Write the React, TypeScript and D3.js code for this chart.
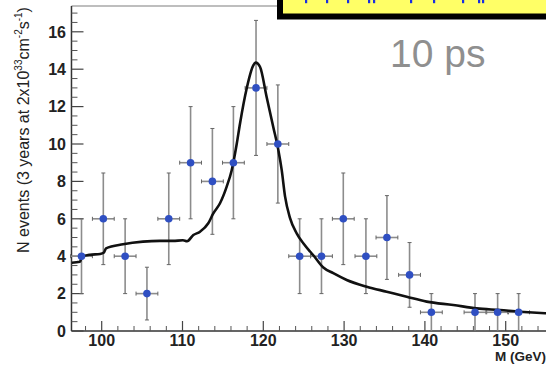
import React from "react";
import * as d3 from "d3";

// Data points (bin centre in GeV, N events, error)
const massBins = [97.5, 100.2, 102.9, 105.6, 108.3, 111.0, 113.7, 116.3, 119.1, 121.8, 124.5, 127.2, 129.9, 132.7, 135.3, 138.1, 140.8, 146.2, 149.0, 151.6];
const counts = [4, 6, 4, 2, 6, 9, 8, 9, 13, 10, 4, 4, 6, 4, 5, 3, 1, 1, 1, 1];
const errors = [2, 2.45, 2, 1.41, 2.45, 3, 2.83, 3, 3.61, 3.16, 2, 2, 2.45, 2, 2.24, 1.73, 1, 1, 1, 1];
const binHalfWidth = 1.35;

// Fitted curve
const curveMass = [96.3, 97.3, 97.56, 98.55, 99.8, 100.28, 100.53, 102.64, 105.11, 107.2, 108.82, 110.06, 110.56, 111.34, 112.17, 113.19, 113.81, 114.64, 115.47, 116.09, 116.71, 117.12, 117.95, 118.76, 119.06, 119.59, 120.42, 121.24, 121.86, 122.28, 122.69, 123.3, 124.13, 124.95, 125.78, 126.19, 127.43, 128.66, 130.32, 132.8, 135.27, 137.75, 140.22, 143.51, 146.41, 149.29, 151.77, 154.86, 156];
const curveValue = [3.65, 3.7, 3.97, 4.08, 4.12, 4.2, 4.42, 4.64, 4.78, 4.82, 4.82, 4.85, 4.8, 5.13, 5.31, 5.76, 6.29, 6.83, 7.72, 8.6, 10.0, 11.1, 12.98, 14.2, 14.35, 14.13, 12.5, 10.9, 9.68, 8.6, 7.2, 6.05, 5.22, 4.69, 4.25, 4.05, 3.4, 3.09, 2.73, 2.37, 2.1, 1.83, 1.57, 1.39, 1.21, 1.12, 1.03, 0.95, 0.93];

const xMajorTicks = [100, 110, 120, 130, 140, 150];
const yMajorTicks = [0, 2, 4, 6, 8, 10, 12, 14, 16];

const W = 546;
const H = 368;

export default function App() {
  const x = d3.scaleLinear().domain([100, 150]).range([101.7, 505.7]);
  const y = d3.scaleLinear().domain([0, 16]).range([331, 31.8]);
  const x0 = x(96.26);
  const yTop = y(17.38);

  const xMinor = d3.range(98, 156, 2).filter((v) => v % 10 !== 0);
  const yMinor = d3.range(0, 17.4, 0.5).filter((v) => v % 2 !== 0);

  const line = d3
    .line<number>()
    .x((_, i) => x(curveMass[i]))
    .y((d) => y(d))
    .curve(d3.curveMonotoneX);

  const errColor = "#8c8c8c";
  const capColor = "#666";
  const font = "'Liberation Sans', Arial, Helvetica, sans-serif";

  const blueMarks = [305, 326, 347, 368, 373, 410, 433, 462, 478, 482];

  return (
    <svg width={W} height={H} style={{ position: "absolute", left: 0, top: 0, background: "#fff" }}>
      <defs>
        <clipPath id="plotclip">
          <rect x={x0} y={0} width={W - x0} height={331} />
        </clipPath>
      </defs>
      <rect x={0} y={0} width={W} height={H} fill="#fff" />

      {/* frame top */}
      <line x1={x0} x2={W} y1={yTop} y2={yTop} stroke="#a8a8a8" strokeWidth={1.5} />

      {/* axes */}
      <line x1={x0} x2={x0} y1={yTop} y2={y(0)} stroke="#333" strokeWidth={1.5} />
      <line x1={x0} x2={W} y1={y(0)} y2={y(0)} stroke="#333" strokeWidth={1.5} />

      {/* y ticks */}
      {yMajorTicks.map((v) => (
        <g key={"ym" + v}>
          <line x1={x0} x2={x0 + 12} y1={y(v)} y2={y(v)} stroke="#444" strokeWidth={1.2} />
          <text x={66} y={y(v) + 5.7} textAnchor="end" fontFamily={font} fontWeight="bold" fontSize={16} fill="#222">
            {v}
          </text>
        </g>
      ))}
      {yMinor.map((v) => (
        <line key={"yn" + v} x1={x0} x2={x0 + 6} y1={y(v)} y2={y(v)} stroke="#555" strokeWidth={1} />
      ))}

      {/* x ticks */}
      {xMajorTicks.map((v) => (
        <g key={"xm" + v}>
          <line x1={x(v)} x2={x(v)} y1={y(0)} y2={y(0) - 10} stroke="#444" strokeWidth={1.2} />
          <text x={x(v)} y={346.3} textAnchor="middle" fontFamily={font} fontWeight="bold" fontSize={16} fill="#222">
            {v}
          </text>
        </g>
      ))}
      {xMinor.map((v) => (
        <line key={"xn" + v} x1={x(v)} x2={x(v)} y1={y(0)} y2={y(0) - 5} stroke="#555" strokeWidth={1} />
      ))}

      {/* error bars */}
      {massBins.map((m, i) => {
        const cx = x(m);
        const cy = y(counts[i]);
        const yl = y(Math.max(0, counts[i] - errors[i]));
        const yh = y(counts[i] + errors[i]);
        const xl = x(m - binHalfWidth);
        const xh = x(m + binHalfWidth);
        return (
          <g key={"e" + i}>
            <line x1={cx} x2={cx} y1={yh} y2={yl} stroke={errColor} strokeWidth={1.6} />
            <line x1={cx - 2} x2={cx + 2} y1={yh} y2={yh} stroke={capColor} strokeWidth={1} />
            <line x1={cx - 2} x2={cx + 2} y1={yl} y2={yl} stroke={capColor} strokeWidth={1} />
            <line x1={xl} x2={xh} y1={cy} y2={cy} stroke={errColor} strokeWidth={1.6} />
            <line x1={xl} x2={xl} y1={cy - 2} y2={cy + 2} stroke={capColor} strokeWidth={1} />
            <line x1={xh} x2={xh} y1={cy - 2} y2={cy + 2} stroke={capColor} strokeWidth={1} />
          </g>
        );
      })}

      {/* curve */}
      <path d={line(curveValue) || ""} fill="none" stroke="#111" strokeWidth={2.6} strokeLinejoin="round" clipPath="url(#plotclip)" />

      {/* points */}
      {massBins.map((m, i) => (
        <circle key={"p" + i} cx={x(m)} cy={y(counts[i])} r={3.8} fill="#2f4fc2" />
      ))}

      {/* yellow box */}
      <rect x={277} y={-10} width={300} height={29.5} fill="#000" />
      <rect x={283} y={-10} width={300} height={23.5} fill="#ffff66" />
      {blueMarks.map((bx, i) => (
        <rect key={"b" + i} x={bx} y={0} width={2.2} height={3.2} fill="#1a2ee0" />
      ))}

      {/* 10 ps */}
      <text x={390} y={66.7} fontFamily={font} fontSize={39} fill="#8f8f8f">
        10 ps
      </text>

      {/* y label */}
      <text
        transform={`translate(28.5, 130) rotate(-90)`}
        textAnchor="middle"
        fontFamily={font}
        fontSize={16}
        fill="#222"
      >
        N events (3 years at 2x10
        <tspan fontSize={10} dy={-7}>33</tspan>
        <tspan dy={7}>cm</tspan>
        <tspan fontSize={10} dy={-7}>-2</tspan>
        <tspan dy={7}>s</tspan>
        <tspan fontSize={10} dy={-7}>-1</tspan>
        <tspan dy={7}>)</tspan>
      </text>

      {/* x label */}
      <text x={495} y={360.5} fontFamily={font} fontWeight="bold" fontSize={13.5} fill="#222">
        M (GeV)
      </text>
    </svg>
  );
}
